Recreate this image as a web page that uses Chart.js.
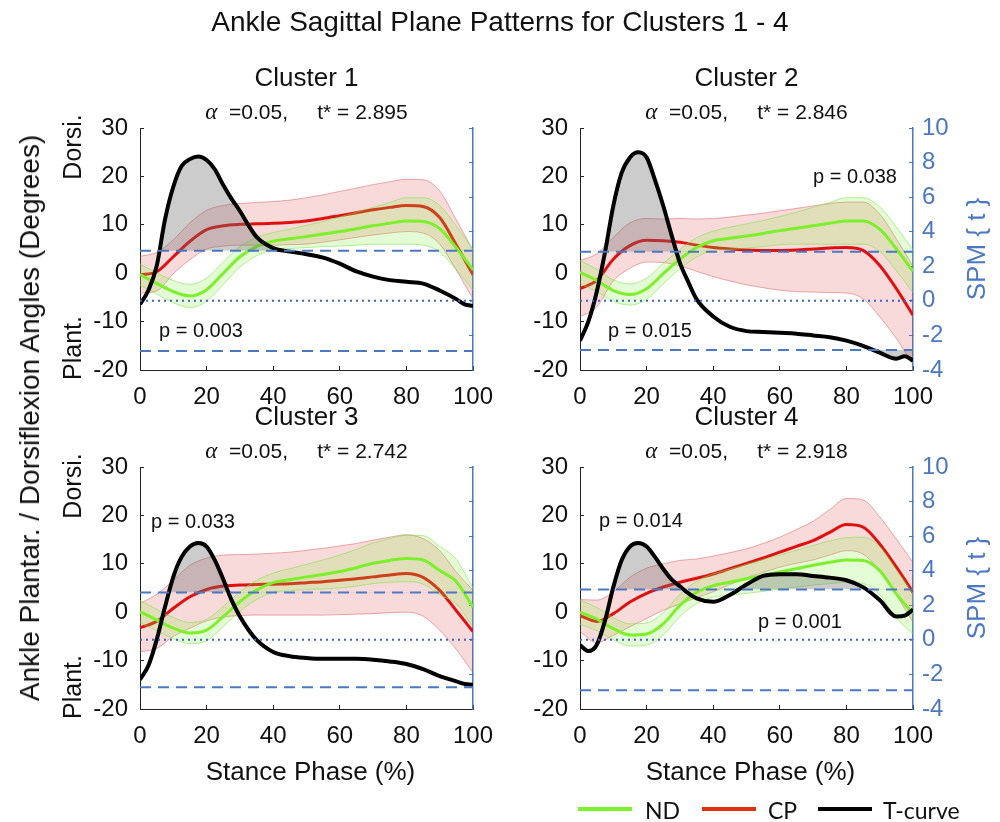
<!DOCTYPE html>
<html>
<head>
<meta charset="utf-8">
<script src="https://cdn.jsdelivr.net/npm/chart.js@4.4.1/dist/chart.umd.min.js"></script>
<style>
  html, body { margin: 0; padding: 0; background: #fff; }
  #page { position: relative; width: 1000px; height: 822px; overflow: hidden; font-family: "Liberation Sans", Arial, sans-serif; color: #111; }
  #page canvas { position: absolute; left: 0; top: 0; }
  .lbl { position: absolute; white-space: pre; transform: translate(-50%, -50%); line-height: 1; }
  .rot { transform: translate(-50%, -50%) rotate(-90deg); }
  .alpha { font-family: "Liberation Serif", serif; font-style: italic; font-size: 1.1em; }
  .key { position: absolute; height: 4px; }
  .keytxt { position: absolute; font-family: Lato, sans-serif; font-size: 23px; transform: translateY(-50%); line-height: 1; }
</style>
</head>
<body>
<div id="page">
  <canvas id="c1" width="1000" height="822"></canvas>
  <canvas id="c2" width="1000" height="822"></canvas>
  <canvas id="c3" width="1000" height="822"></canvas>
  <canvas id="c4" width="1000" height="822"></canvas>
</div>
<script>
// stance phase samples (%)
const phase = [0, 5, 10, 15, 20, 25, 30, 35, 40, 45, 50, 55, 60, 65, 70, 75, 80, 85, 90, 95, 100];
const phaseT = [0, 2.5, 5, 7.5, 10, 12.5, 15, 17.5, 20, 22.5, 25, 27.5, 30, 32.5, 35, 40, 45, 50, 55, 60, 65, 70, 75, 80, 85, 90, 95, 97.5, 100];

// Cluster 1
const nd1Mean = [-0.3, -2.1, -3.8, -4.7, -3.4, 0.0, 3.4, 5.5, 6.6, 7.1, 7.6, 8.1, 8.6, 9.2, 9.8, 10.3, 10.8, 10.7, 9.2, 5.2, 0.7];
const nd1Sd   = [2.2, 2.2, 2.3, 2.4, 2.4, 2.3, 2.1, 1.9, 1.8, 2.0, 2.3, 2.6, 3.0, 3.4, 3.8, 4.3, 4.8, 4.9, 4.8, 4.5, 4.2];
const cp1Mean = [-0.3, 0.3, 3.4, 6.6, 9.0, 9.8, 10.1, 10.2, 10.3, 10.5, 10.8, 11.3, 11.9, 12.5, 13.1, 13.6, 14.0, 13.8, 11.5, 5.8, -0.3];
const cp1Sd   = [3.8, 4.0, 3.5, 3.8, 4.0, 4.2, 4.3, 4.4, 4.5, 4.6, 4.8, 4.9, 5.0, 5.1, 5.2, 5.3, 5.4, 5.5, 5.5, 5.2, 5.0];
const t1 = [-0.2, 0.6, 2.0, 4.7, 6.6, 7.8, 8.2, 8.35, 8.15, 7.6, 6.7, 5.9, 5.2, 4.4, 3.7, 3.05, 2.85, 2.7, 2.5, 2.15, 1.7, 1.4, 1.2, 1.1, 1.0, 0.6, 0.1, -0.2, -0.3];

// Cluster 2
const nd2Mean = [0.2, -1.5, -3.6, -4.4, -3.2, -0.1, 2.9, 5.3, 6.7, 7.2, 7.7, 8.2, 8.8, 9.3, 9.8, 10.3, 10.8, 10.8, 9.1, 5.0, 0.4];
const nd2Sd   = [2.4, 2.3, 2.2, 2.2, 2.2, 2.1, 2.0, 2.0, 2.0, 2.3, 2.5, 2.7, 2.9, 3.3, 3.8, 4.3, 4.8, 4.8, 4.6, 4.5, 4.4];
const cp2Mean = [-3.2, -1.5, 2.9, 5.7, 6.8, 6.7, 6.4, 5.8, 5.3, 5.0, 4.8, 4.7, 4.7, 4.8, 5.0, 5.2, 5.3, 4.7, 1.6, -3.2, -8.7];
const cp2Sd   = [5.8, 5.5, 4.5, 4.7, 4.5, 4.5, 4.9, 5.4, 6.0, 6.6, 7.2, 7.7, 8.2, 8.6, 8.9, 9.2, 9.4, 10.0, 10.6, 10.3, 10.1];
const t2 = [-2.3, -1.2, 0.5, 2.8, 5.5, 7.4, 8.3, 8.6, 8.3, 7.0, 5.5, 3.8, 2.2, 1.1, 0.1, -0.9, -1.5, -1.75, -1.8, -1.85, -1.9, -2.0, -2.1, -2.3, -2.6, -3.0, -3.35, -3.2, -3.45];

// Cluster 3
const nd3Mean = [0.1, -1.6, -3.3, -4.3, -3.7, -0.9, 2.2, 4.6, 6.1, 6.7, 7.3, 7.8, 8.4, 9.2, 10.1, 10.7, 11.1, 10.8, 8.6, 6.3, 1.0];
const nd3Sd   = [2.3, 2.2, 2.2, 2.2, 2.2, 2.1, 2.0, 2.0, 2.0, 2.3, 2.6, 3.0, 3.4, 3.8, 4.2, 4.5, 4.8, 5.0, 5.0, 4.6, 4.0];
const cp3Mean = [-3.2, -1.9, 0.8, 3.2, 4.7, 5.4, 5.6, 5.7, 5.8, 5.9, 6.1, 6.3, 6.6, 6.9, 7.3, 7.7, 8.0, 7.2, 4.5, 0.3, -4.0];
const cp3Sd   = [5.0, 5.6, 5.8, 6.5, 6.5, 6.4, 6.3, 6.3, 6.4, 6.5, 6.7, 6.9, 7.1, 7.3, 7.6, 7.8, 8.0, 8.0, 8.2, 8.0, 8.5];
const t3 = [-2.3, -1.5, 0.0, 1.9, 3.65, 4.8, 5.4, 5.6, 5.4, 4.6, 3.5, 2.3, 1.35, 0.6, 0.0, -0.7, -0.95, -1.05, -1.1, -1.1, -1.1, -1.15, -1.25, -1.4, -1.7, -2.1, -2.4, -2.55, -2.6];

// Cluster 4
const nd4Mean = [0.0, -1.4, -3.4, -4.7, -4.5, -2.4, 1.4, 4.1, 5.5, 6.2, 6.9, 7.6, 8.3, 9.0, 9.7, 10.3, 10.8, 10.7, 8.6, 3.8, -0.3];
const nd4Sd   = [2.5, 2.4, 2.3, 2.3, 2.3, 2.3, 2.3, 2.3, 2.4, 2.7, 3.0, 3.3, 3.5, 3.8, 4.1, 4.4, 4.6, 4.8, 5.0, 5.0, 4.2];
const cp4Mean = [-0.7, -1.9, -0.3, 2.1, 3.9, 5.2, 6.2, 7.0, 7.9, 9.0, 10.1, 11.2, 12.4, 13.6, 14.8, 16.5, 18.1, 17.6, 14.1, 9.3, 4.1];
const cp4Sd   = [3.3, 4.4, 4.5, 5.1, 5.2, 4.8, 4.5, 4.0, 3.7, 3.3, 3.0, 3.0, 3.1, 3.5, 4.0, 4.7, 5.4, 5.6, 5.6, 5.8, 6.2];
const t4 = [-0.3, -0.65, -0.3, 1.1, 3.05, 4.6, 5.4, 5.6, 5.4, 4.8, 4.1, 3.5, 3.1, 2.7, 2.4, 2.2, 2.6, 3.2, 3.7, 3.8, 3.8, 3.7, 3.6, 3.45, 3.05, 2.3, 1.35, 1.4, 1.75];

const tStar = [2.895, 2.846, 2.742, 2.918];
const clusterNames = ['Cluster 1', 'Cluster 2', 'Cluster 3', 'Cluster 4'];
const pLabels = [['p = 0.003'], ['p = 0.038', 'p = 0.015'], ['p = 0.033'], ['p = 0.014', 'p = 0.001']];

const BLUE = '#4a78c2';
const GREEN = '#7cf02a';
const RED = '#e01010';

// panel geometry (plot area in page px) and label spots
const panels = [
  { id: 'c1', nd: nd1Mean, ndSd: nd1Sd, cp: cp1Mean, cpSd: cp1Sd, t: t1, left: 140, right: 473, top: 128, bottom: 370, rightLabels: false, xTitle: false,
    pPos: [[201, 330]] },
  { id: 'c2', nd: nd2Mean, ndSd: nd2Sd, cp: cp2Mean, cpSd: cp2Sd, t: t2, left: 580, right: 913, top: 128, bottom: 370, rightLabels: true, xTitle: false,
    pPos: [[855, 176], [650, 330]] },
  { id: 'c3', nd: nd3Mean, ndSd: nd3Sd, cp: cp3Mean, cpSd: cp3Sd, t: t3, left: 140, right: 473, top: 467, bottom: 709, rightLabels: false, xTitle: true,
    pPos: [[193, 521]] },
  { id: 'c4', nd: nd4Mean, ndSd: nd4Sd, cp: cp4Mean, cpSd: cp4Sd, t: t4, left: 580, right: 913, top: 467, bottom: 709, rightLabels: true, xTitle: true,
    pPos: [[641, 520], [800, 621]] }
];

const Y_W = 60, Y1_W = 60, X_H = 50;

function pts(xs, ys, k, sign) {
  return xs.map((x, i) => ({ x: x, y: ys[i] + (sign ? sign * k[i] : 0) }));
}
function flat(v) {
  return [{ x: 0, y: v }, { x: 100, y: v }];
}

function renderPanel(p, idx) {
  const ts = tStar[idx];
  const gray = 'rgba(110,110,110,0.35)';
  const datasets = [
    { data: flat(ts), yAxisID: 'y1', borderColor: BLUE, borderWidth: 2, borderDash: [11, 7], order: 0 },
    { data: flat(-ts), yAxisID: 'y1', borderColor: BLUE, borderWidth: 2, borderDash: [11, 7], order: 0 },
    { data: flat(0), yAxisID: 'y1', borderColor: '#3d62c8', borderWidth: 2, borderDash: [2, 4], order: 0 },
    { data: pts(phaseT, p.t), yAxisID: 'y1', borderColor: '#000', borderWidth: 4, order: 1,
      fill: { target: { value: ts }, above: gray, below: 'rgba(0,0,0,0)' } },
    { data: pts(phaseT, p.t), yAxisID: 'y1', borderColor: 'rgba(0,0,0,0)', borderWidth: 0, order: 2,
      fill: { target: { value: -ts }, above: 'rgba(0,0,0,0)', below: gray } },
    { data: pts(phase, p.nd), yAxisID: 'y', borderColor: GREEN, borderWidth: 3, order: 3 },
    { data: pts(phase, p.nd, p.ndSd, 1), yAxisID: 'y', borderColor: 'rgba(120,225,70,0.55)', borderWidth: 1, order: 4,
      fill: '+1', backgroundColor: 'rgba(130,240,70,0.22)' },
    { data: pts(phase, p.nd, p.ndSd, -1), yAxisID: 'y', borderColor: 'rgba(120,225,70,0.55)', borderWidth: 1, order: 4 },
    { data: pts(phase, p.cp), yAxisID: 'y', borderColor: RED, borderWidth: 3, order: 5 },
    { data: pts(phase, p.cp, p.cpSd, 1), yAxisID: 'y', borderColor: 'rgba(215,90,90,0.5)', borderWidth: 1, order: 6,
      fill: '+1', backgroundColor: 'rgba(225,70,70,0.2)' },
    { data: pts(phase, p.cp, p.cpSd, -1), yAxisID: 'y', borderColor: 'rgba(215,90,90,0.5)', borderWidth: 1, order: 6 }
  ];

  new Chart(document.getElementById(p.id), {
    type: 'line',
    data: { datasets: datasets },
    options: {
      responsive: false,
      animation: false,
      devicePixelRatio: 1,
      events: [],
      elements: {
        point: { radius: 0 },
        line: { cubicInterpolationMode: 'monotone', fill: false }
      },
      layout: {
        padding: {
          left: p.left - Y_W,
          right: 1000 - p.right - Y1_W,
          top: p.top,
          bottom: 822 - p.bottom - X_H
        }
      },
      scales: {
        x: {
          type: 'linear', min: 0, max: 100,
          ticks: { stepSize: 20, padding: 17, color: '#111', font: { size: 24 }, maxRotation: 0 },
          grid: { drawOnChartArea: false, tickLength: -4, color: '#222' },
          border: { color: '#222', width: 1 },
          afterFit: s => { s.height = X_H; }
        },
        y: {
          position: 'left', min: -20, max: 30,
          ticks: { stepSize: 10, padding: 16, color: '#111', font: { size: 24 } },
          grid: { drawOnChartArea: false, tickLength: -4, color: '#222' },
          border: { color: '#222', width: 1 },
          afterFit: s => { s.width = Y_W; }
        },
        y1: {
          position: 'right', min: -4, max: 10,
          ticks: { stepSize: 2, padding: 13, color: BLUE, font: { size: 24 }, display: p.rightLabels },
          grid: { drawOnChartArea: false, tickLength: -4, color: BLUE },
          border: { color: BLUE, width: 1.5 },
          afterFit: s => { s.width = Y1_W; }
        }
      },
      plugins: {
        legend: { display: false },
        tooltip: { enabled: false },
        filler: { propagate: false }
      }
    }
  });
}

Chart.defaults.font.family = '"Liberation Sans", Arial, sans-serif';
panels.forEach(renderPanel);

// text overlays
const page = document.getElementById('page');
function text(str, x, y, size, extra) {
  const d = document.createElement('div');
  d.className = 'lbl' + (extra && extra.rot ? ' rot' : '');
  d.style.left = x + 'px';
  d.style.top = y + 'px';
  d.style.fontSize = size + 'px';
  if (extra && extra.color) d.style.color = extra.color;
  if (extra && extra.html) d.innerHTML = str; else d.textContent = str;
  page.appendChild(d);
}

text('Ankle Sagittal Plane Patterns for Clusters 1 - 4', 500, 22, 28);
text('Ankle Plantar. / Dorsiflexion Angles (Degrees)', 30, 418, 28, { rot: true });

panels.forEach((p, i) => {
  const cx = (p.left + p.right) / 2;
  text(clusterNames[i], cx, p.top - 51, 26);
  text('<span class="alpha">\u03b1</span>  =0.05,     t* = ' + tStar[i].toFixed(3), cx, p.top - 16, 21, { html: true });
  pLabels[i].forEach((s, k) => text(s, p.pPos[k][0], p.pPos[k][1], 20));
  if (p.left < 300) {
    text('Dorsi.', 72, p.top + 19, 25, { rot: true });
    text('Plant.', 72, p.bottom - 22, 25, { rot: true });
  }
  if (p.rightLabels) text('SPM { t }', 976, (p.top + p.bottom) / 2, 26, { rot: true, color: BLUE });
  if (p.xTitle) text('Stance Phase (%)', cx + 4, p.bottom + 62, 26);
});

// legend
const keys = [['ND', GREEN, 578, 645], ['CP', '#e03010', 702, 768], ['T-curve', '#000', 818, 883]];
keys.forEach(k => {
  const ln = document.createElement('div');
  ln.className = 'key';
  ln.style.left = k[2] + 'px';
  ln.style.top = '807px';
  ln.style.width = '54px';
  ln.style.background = k[1];
  page.appendChild(ln);
  const t = document.createElement('div');
  t.className = 'keytxt';
  t.style.left = k[3] + 'px';
  t.style.top = '810px';
  t.textContent = k[0];
  page.appendChild(t);
});
</script>
</body>
</html>
